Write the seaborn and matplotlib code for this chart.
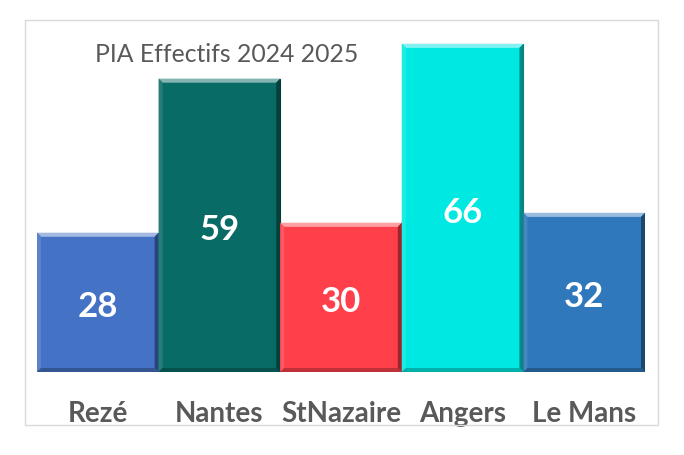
import matplotlib
matplotlib.use("Agg")
import matplotlib.pyplot as plt
import seaborn as sns
import pandas as pd
from matplotlib.patches import Polygon, Rectangle
from matplotlib.colors import to_rgb

# Data
villes = ["Rezé", "Nantes", "StNazaire", "Angers", "Le Mans"]
effectifs = [28, 59, 30, 66, 32]
couleurs = ["#4472C4", "#086B66", "#FF404B", "#00E8E2", "#2E78BB"]

df = pd.DataFrame({"ville": villes, "effectif": effectifs})

sns.set_style("white")
plt.rcParams["font.family"] = ["Lato", "DejaVu Sans"]

fig = plt.figure(figsize=(6.84, 4.55), dpi=100)
ax = fig.add_axes([37 / 684, 83 / 455, 608 / 684, 348 / 455])

sns.barplot(data=df, x="ville", y="effectif", hue="ville", palette=couleurs,
            width=1.0, legend=False, ax=ax, saturation=1)

ax.set_ylim(0, 70)
ax.set_xlim(-0.5, 4.5)


def shade(c, f):
    r, g, b = to_rgb(c)
    if f > 1:
        return tuple(x + (1 - x) * (f - 1) for x in (r, g, b))
    return tuple(x * f for x in (r, g, b))


# bevel effect built from the bar patches
bx = 4 / 121.6
by = 4 / 4.97
for p, c, v in zip(ax.patches, couleurs, effectifs):
    x0, w, h = p.get_x(), p.get_width(), p.get_height()
    x1 = x0 + w
    p.set_edgecolor(shade(c, 0.55))
    p.set_linewidth(0.8)
    top = Polygon([(x0, h), (x1, h), (x1 - bx, h - by), (x0 + bx, h - by)],
                  closed=True, facecolor=shade(c, 1.5), edgecolor="none", zorder=3)
    left = Polygon([(x0, h), (x0 + bx, h - by), (x0 + bx, by), (x0, 0)],
                   closed=True, facecolor=shade(c, 1.12), edgecolor="none", zorder=3)
    right = Polygon([(x1, h), (x1 - bx, h - by), (x1 - bx, by), (x1, 0)],
                    closed=True, facecolor=shade(c, 0.6), edgecolor="none", zorder=3)
    bottom = Polygon([(x0, 0), (x1, 0), (x1 - bx, by), (x0 + bx, by)],
                     closed=True, facecolor=shade(c, 0.75), edgecolor="none", zorder=3)
    for poly in (top, left, right, bottom):
        ax.add_patch(poly)
    ax.annotate(str(v), (x0 + w / 2, h / 2), xytext=(0, -3.5), textcoords="offset points",
                ha="center", va="center", color="white", fontsize=25,
                fontweight="bold", zorder=4)

for s in ax.spines.values():
    s.set_visible(False)
ax.set_yticks([])
ax.set_xlabel("")
ax.set_ylabel("")
ax.tick_params(axis="x", length=0, pad=21, labelsize=20, labelcolor="#595959")
for t in ax.get_xticklabels():
    t.set_fontweight("bold")

fig.text(95 / 684, 1 - 55 / 455, "PIA Effectifs 2024 2025", ha="left", va="center",
         fontsize=17.8, color="#595959")

# chart border
fig.patches.append(Rectangle((25 / 684, 1 - 425 / 455), 633 / 684, 405 / 455,
                             transform=fig.transFigure, fill=False,
                             edgecolor="#D9D9D9", linewidth=1))

fig.savefig("out.png", dpi=100)
